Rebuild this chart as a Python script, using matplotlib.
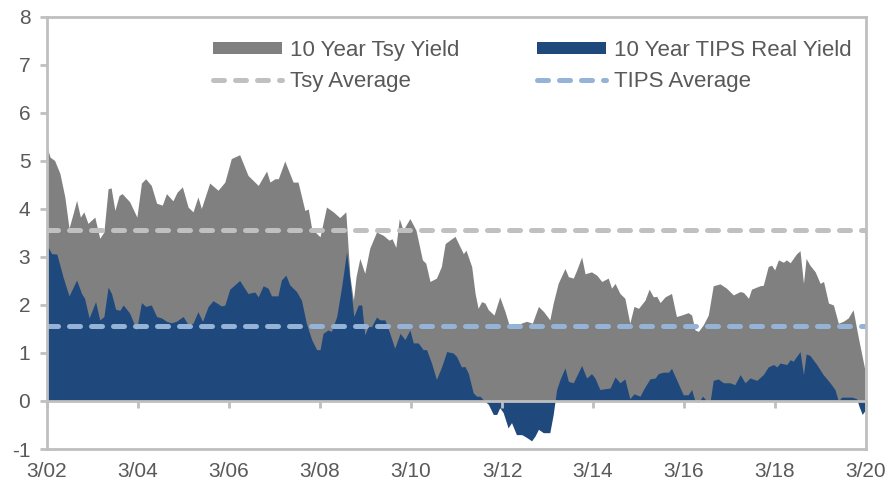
#!/usr/bin/env python
"""10 year Treasury yield vs 10 year TIPS real yield, 3/02 - 3/20."""

import matplotlib.pyplot as plt

# months since March 2002
tsy_month = [0, 0.8, 2, 3.4, 4.7, 5.8, 6.9, 7.8, 8.8, 9.7, 10.8, 12.6, 13.9, 15, 16.1, 16.9,
             17.9, 19, 19.8, 21.8, 23.7, 24.9, 26, 27.5, 28.9, 30.4, 31.5, 33.2, 34.3, 35.7,
             37.2, 38.5, 39.8, 40.7, 42.9, 45.1, 46.9, 48.6, 50.8, 53, 55.7, 57.9, 58.8, 60.1,
             61, 62.7, 64.9, 66.2, 68, 68.9, 69.8, 72, 73.7, 75.5, 77.2, 78.8, 79.9, 80.8,
             81.5, 82.5, 83.8, 85.1, 86.9, 88.7, 90.2, 91, 92, 92.9, 93.9, 95.7, 97.3, 99,
             99.9, 101, 102.7, 104, 105, 107.6, 109.8, 110.5, 112, 112.9, 113.7, 114.6, 115.5,
             116.4, 117.9, 119.4, 120.8, 122, 123.8, 125, 126.5, 128, 129.6, 131, 132.6, 133.5,
             134.8, 136.6, 137.5, 138.8, 139.7, 141, 141.9, 143.6, 145, 146.3, 148, 148.9,
             149.8, 151.1, 152.4, 153.7, 154.8, 156, 157.7, 158.8, 159.9, 160.8, 161.7, 163,
             164.7, 166, 167.3, 169.1, 170, 170.9, 171.8, 173.1, 174.4, 175.7, 177.5, 179.2,
             181, 182.8, 183.7, 185, 185.8, 188, 188.9, 190.2, 191.1, 191.9, 192.9, 194.2, 195,
             196, 196.8, 197.7, 198.6, 199.5, 200.2, 201.2, 202.6, 203.9, 204.8, 206.1, 207.4,
             208.7, 210, 211.3, 212.6, 213.9, 215.7]
tsy_yield = [5.29, 5.08, 5.01, 4.74, 4.25, 3.6, 3.91, 4.18, 3.83, 3.94, 3.70, 3.83, 3.39, 3.52,
             4.42, 4.44, 3.97, 4.28, 4.32, 4.15, 3.83, 4.54, 4.63, 4.49, 4.12, 4.08, 4.32, 4.17,
             4.35, 4.46, 4.04, 3.94, 4.25, 4.01, 4.54, 4.39, 4.56, 5.05, 5.13, 4.70, 4.49, 4.79,
             4.56, 4.63, 4.63, 5.0, 4.56, 4.56, 3.97, 4.0, 3.59, 3.42, 4.04, 3.94, 3.82, 3.94,
             2.59, 2.1, 2.59, 2.97, 2.66, 3.18, 3.52, 3.45, 3.35, 3.38, 3.2, 3.80, 3.56, 3.8,
             3.56, 2.94, 2.87, 2.49, 2.56, 2.80, 3.28, 3.43, 3.07, 3.14, 2.80, 2.24, 1.93, 2.07,
             2.04, 1.90, 1.79, 2.17, 1.86, 1.55, 1.52, 1.62, 1.66, 1.62, 1.97, 1.86, 1.69, 2.04,
             2.45, 2.76, 2.59, 2.56, 2.73, 3.0, 2.65, 2.69, 2.62, 2.49, 2.56, 2.35, 2.45, 2.24,
             2.14, 1.62, 1.97, 1.93, 2.1, 2.33, 2.17, 2.18, 2.05, 2.17, 2.24, 1.76, 1.79, 1.84,
             1.79, 1.48, 1.45, 1.59, 1.79, 2.40, 2.44, 2.35, 2.21, 2.28, 2.26, 2.14, 2.33, 2.40,
             2.41, 2.80, 2.83, 2.73, 2.94, 2.89, 2.94, 2.88, 2.97, 3.07, 3.13, 2.45, 2.97, 2.83,
             2.69, 2.45, 2.49, 2.04, 2.0, 1.62, 1.66, 1.73, 1.90, 1.35, 0.65]

tips_month = [0, 1.2, 2.6, 4.2, 5.8, 7.8, 9.1, 9.9, 11.1, 12.8, 13.9, 15, 16.1, 17, 18.1, 19.2,
              20.1, 21.8, 23.6, 24.9, 26, 27.5, 28.9, 30.2, 31.5, 32.8, 34.1, 35.9, 37.2, 38.5,
              39.8, 41, 42.5, 43.8, 46, 46.9, 48.2, 49.5, 50.8, 53, 54.8, 55.7, 57, 58.3, 59.2,
              60.9, 61.8, 63, 64, 65.8, 67.1, 68.4, 69.8, 71.1, 72, 72.8, 74.1, 75, 76.4, 77.7,
              79, 79.9, 80.9, 82.1, 83, 83.8, 84.7, 85.6, 86.9, 87.8, 89.1, 90.4, 91.7, 93.1,
              94.4, 95.7, 96.6, 97.9, 99.2, 100.1, 101.4, 102.7, 104.1, 105.4, 107.1, 108, 109.3,
              110.2, 111.1, 112.4, 113.3, 114.2, 115, 116.4, 117.7, 118.6, 119.4, 120.3, 121.6,
              122.5, 123.8, 125.2, 126.5, 127.8, 128.7, 129.6, 130.9, 132.6, 133.5, 134.4, 135.3,
              136.6, 137.5, 138.8, 141, 142.3, 143.6, 144.5, 145.8, 148.5, 149.8, 151.1, 152.4,
              153.7, 154.8, 156.4, 157.3, 159, 160.4, 161.2, 162.5, 163.9, 164.7, 166, 167.8,
              169.1, 170, 170.9, 171.8, 172.9, 174, 174.9, 175.7, 177, 178.4, 180.1, 181.4,
              182.8, 184.1, 185.4, 187.2, 188.9, 190.2, 191.6, 192.5, 193.3, 195.1, 196, 196.8,
              198.6, 199.5, 200.2, 201.2, 203, 204.7, 206.5, 207.8, 208.7, 209.6, 212.3, 213.5,
              214.2, 215, 215.7]
tips_yield = [3.25, 3.07, 3.06, 2.59, 2.19, 2.52, 2.24, 2.14, 1.73, 2.07, 1.69, 1.76, 2.37, 2.24,
              1.91, 1.89, 2.0, 1.83, 1.48, 2.05, 1.97, 2.0, 1.76, 1.73, 1.66, 1.63, 1.66, 1.76,
              1.59, 1.62, 1.86, 1.66, 1.97, 2.09, 1.98, 2.0, 2.33, 2.42, 2.51, 2.24, 2.27, 2.17,
              2.40, 2.35, 2.19, 2.19, 2.52, 2.62, 2.42, 2.28, 2.1, 1.62, 1.28, 1.07, 1.07, 1.41,
              1.48, 1.45, 1.76, 2.38, 3.11, 2.52, 1.76, 2.0, 2.0, 1.38, 1.55, 1.55, 1.75, 1.69,
              1.69, 1.41, 1.10, 1.41, 1.28, 1.48, 1.21, 1.21, 1.07, 1.07, 0.79, 0.45, 0.72, 1.03,
              1.0, 0.93, 0.71, 0.72, 0.58, 0.17, 0.10, 0.10, 0.03, -0.07, -0.28, -0.28, -0.14,
              -0.24, -0.56, -0.45, -0.70, -0.70, -0.76, -0.83, -0.73, -0.59, -0.66, -0.66, -0.28,
              0.24, 0.45, 0.69, 0.41, 0.38, 0.74, 0.48, 0.57, 0.48, 0.24, 0.27, 0.50, 0.38, 0.46,
              0.05, 0.15, 0.10, 0.24, 0.46, 0.48, 0.57, 0.60, 0.60, 0.68, 0.45, 0.13, 0.13, 0.24,
              0.0, -0.03, 0.1, 0.0, 0.0, 0.43, 0.46, 0.38, 0.38, 0.34, 0.55, 0.38, 0.48, 0.43,
              0.55, 0.71, 0.76, 0.71, 0.79, 0.76, 0.86, 0.83, 1.03, 0.55, 0.98, 0.95, 0.76, 0.55,
              0.38, 0.24, 0.0, 0.08, 0.08, 0.05, -0.12, -0.28, -0.2]

tsy_avg = 3.56
tips_avg = 1.57

tick_months = [0, 24, 48, 72, 96, 120, 144, 168, 192, 216]
tick_labels = ['3/02', '3/04', '3/06', '3/08', '3/10', '3/12', '3/14', '3/16', '3/18', '3/20']


def main():
    """ draw the chart """
    plt.rcParams['font.family'] = ['Liberation Sans', 'DejaVu Sans']
    plt.rcParams['axes.unicode_minus'] = False
    frame = '#BFBFBF'
    text = '#595959'

    fig = plt.figure(figsize=(8.94, 4.84), dpi=100)
    ax = fig.add_axes([0.0526, 0.0723, 0.9161, 0.8927])

    tsy = ax.fill_between(tsy_month, 0, tsy_yield, color='#808080', lw=0,
                          label='10 Year Tsy Yield')
    tips = ax.fill_between(tips_month, 0, tips_yield, color='#1F497D', lw=0,
                           label='10 Year TIPS Real Yield')
    tsy_line = ax.axhline(tsy_avg, color='#C0C0C0', lw=3.6, dashes=(2.2, 2.2),
                          dash_capstyle='round', label='Tsy Average')
    tips_line = ax.axhline(tips_avg, color='#95B3D7', lw=3.6, dashes=(2.2, 2.2),
                           dash_capstyle='round', label='TIPS Average')

    ax.set_xlim(0, 216)
    ax.set_ylim(-1, 8)
    ax.set_yticks(range(-1, 9))

    # zero line carries the x tick marks, the frame bottom carries the labels
    ax.spines['bottom'].set_position(('data', 0))
    ax.spines['bottom'].set_color(frame)
    ax.spines['bottom'].set_linewidth(2)
    ax.set_xticks(tick_months)
    ax.tick_params(axis='x', length=5, width=2, color=frame, labelbottom=False)
    for side in ['left', 'right', 'top']:
        ax.spines[side].set_color(frame)
        ax.spines[side].set_linewidth(2)
    ax.tick_params(axis='y', length=5, width=2, color=frame, labelsize=15,
                   labelcolor=text, pad=7)

    sec = ax.secondary_xaxis('bottom')
    sec.set_xticks(tick_months, tick_labels)
    sec.spines['bottom'].set_color(frame)
    sec.spines['bottom'].set_linewidth(2)
    sec.tick_params(length=0, labelsize=15, labelcolor=text, pad=9)

    # column-major order so rows read: yields, then averages
    ax.legend([tsy, tsy_line, tips, tips_line],
              ['10 Year Tsy Yield', 'Tsy Average', '10 Year TIPS Real Yield', 'TIPS Average'],
              loc='upper left', bbox_to_anchor=(0.178, 0.993), ncol=2, frameon=False,
              fontsize=16, handlelength=3.1, handleheight=0.42, columnspacing=3.5,
              handletextpad=0.36, labelspacing=0.45, labelcolor=text)

    fig.savefig('out.png', dpi=100)


if __name__ == "__main__":
    main()
